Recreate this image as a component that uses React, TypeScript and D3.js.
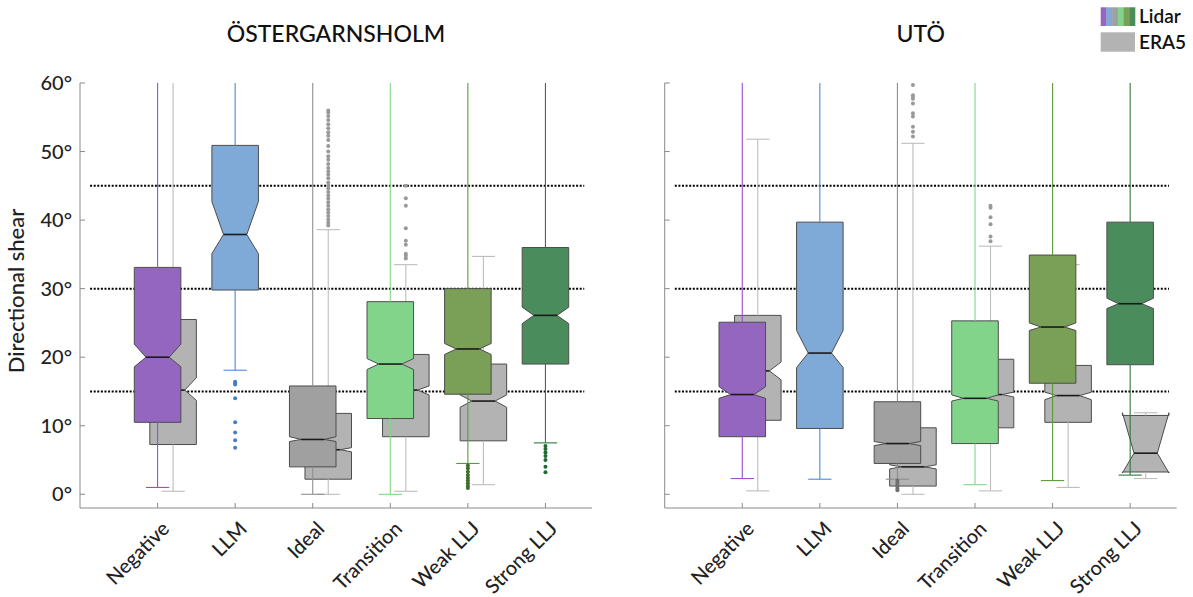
import React from "react";
import * as d3 from "d3";

// Wind-regime categories
const categories = ["Negative", "LLM", "Ideal", "Transition", "Weak LLJ", "Strong LLJ"];
const yTicks = [0, 10, 20, 30, 40, 50, 60];
const refLines = [15, 30, 45];

// Östergarnsholm – Lidar box statistics (degrees)
const ostLidarQ1 = [10.5, 29.8, 4.0, 11.05, 14.6, 19.0];
const ostLidarMedian = [20.0, 37.9, 8.0, 19.0, 21.2, 26.1];
const ostLidarQ3 = [33.1, 50.9, 15.8, 28.1, 30.0, 36.0];
const ostLidarNotchLo = [18.6, 35.1, 7.7, 18.2, 20.4, 24.9];
const ostLidarNotchHi = [21.9, 42.7, 8.4, 19.8, 22.0, 27.3];
const ostLidarWhiskerLo = [1.0, 18.1, 0.0, 0.0, 4.5, 7.5];
const ostLidarWhiskerHi = [60, 60, 60, 60, 60, 60];
const ostLidarOutliers = [
  [],
  [16.4, 16.2, 16.0, 14.0, 10.5, 9.0, 7.9, 6.8],
  [],
  [],
  [4.2, 3.8, 3.3, 2.8, 2.4, 2.0, 1.6, 1.2, 0.9],
  [7.05, 6.6, 6.1, 5.6, 5.0, 4.0, 3.2],
];

// Östergarnsholm – ERA5 box statistics (null = no data)
const ostEraQ1 = [7.26, null, 2.2, 8.4, 7.8, null];
const ostEraMedian = [15.2, null, 6.5, 15.2, 13.6, null];
const ostEraQ3 = [25.5, null, 11.8, 20.4, 19.0, null];
const ostEraNotchLo = [13.7, null, 6.2, 14.5, 12.7, null];
const ostEraNotchHi = [17.0, null, 6.8, 15.8, 14.5, null];
const ostEraWhiskerLo = [0.44, null, 0.0, 0.44, 1.4, null];
const ostEraWhiskerHi = [60, null, 38.6, 33.5, 34.7, null];
const ostEraOutliers = [
  [],
  [],
  [56.0, 55.7, 55.2, 54.6, 54.0, 53.4, 52.8, 52.3, 51.7, 50.8, 50.0, 49.3, 48.8, 48.2,
    47.6, 47.1, 46.6, 46.1, 45.5, 45.0, 44.6, 44.1, 43.6, 43.1, 42.6, 42.1, 41.6, 41.1,
    40.6, 40.1, 39.6, 39.2],
  [45.0, 43.2, 42.1, 38.8, 37.0, 36.4, 35.1, 34.8, 34.4],
  [],
  [],
];

// Utö – Lidar box statistics
const utoLidarQ1 = [8.4, 9.6, 4.5, 7.4, 16.2, 18.9];
const utoLidarMedian = [14.55, 20.6, 7.4, 14.0, 24.4, 27.8];
const utoLidarQ3 = [25.1, 39.7, 13.5, 25.3, 34.9, 39.7];
const utoLidarNotchLo = [14.0, 18.5, 7.1, 13.6, 23.9, 27.1];
const utoLidarNotchHi = [15.7, 23.9, 7.7, 14.5, 25.0, 28.6];
const utoLidarWhiskerLo = [2.3, 2.2, 2.2, 1.4, 2.0, 2.8];
const utoLidarWhiskerHi = [60, 60, 60, 60, 60, 60];
const utoLidarOutliers = [[], [], [2.0, 1.7, 1.4, 1.1, 0.8, 0.6], [], [], []];

// Utö – ERA5 box statistics
const utoEraQ1 = [10.8, null, 1.2, 9.7, 10.5, 3.25];
const utoEraMedian = [18.0, null, 4.0, 14.55, 14.4, 6.0];
const utoEraQ3 = [26.1, null, 9.7, 19.7, 18.8, 11.5];
const utoEraNotchLo = [16.7, null, 3.7, 14.2, 13.8, 3.1];
const utoEraNotchHi = [19.3, null, 4.3, 14.9, 14.9, 11.9];
const utoEraWhiskerLo = [0.5, null, 0.0, 0.5, 1.0, 2.3];
const utoEraWhiskerHi = [51.8, null, 51.2, 36.2, 33.5, 11.9];
const utoEraOutliers = [
  [],
  [],
  [59.7, 58.2, 58.0, 57.7, 57.0, 55.6, 55.1, 53.6, 52.9, 52.2],
  [42.1, 41.8, 40.4, 39.4, 37.6, 36.9],
  [],
  [],
];

// Colours per category
const lidarFill = ["#9466c0", "#7fa9d6", "#a0a0a0", "#82d48b", "#7a9f56", "#4a8c5c"];
const lidarLine = ["#9a4ed6", "#4b8bd6", "#8f8f8f", "#80d88a", "#5a9a3c", "#2b7a3f"];
const lidarDot = ["#7a3fb0", "#4a7cc0", "#6f6f6f", "#5fb86a", "#3d6e2a", "#1f6a30"];
const eraFill = "#b3b3b3";
const eraLine = "#bdbdbd";
const eraDot = "#999999";

const FONT = "Lato, 'Noto Sans', sans-serif";

type Stats = {
  q1: (number | null)[];
  med: (number | null)[];
  q3: (number | null)[];
  nlo: (number | null)[];
  nhi: (number | null)[];
  wlo: (number | null)[];
  whi: (number | null)[];
  out: number[][];
};

const ostLidar: Stats = {
  q1: ostLidarQ1, med: ostLidarMedian, q3: ostLidarQ3, nlo: ostLidarNotchLo,
  nhi: ostLidarNotchHi, wlo: ostLidarWhiskerLo, whi: ostLidarWhiskerHi, out: ostLidarOutliers,
};
const ostEra: Stats = {
  q1: ostEraQ1, med: ostEraMedian, q3: ostEraQ3, nlo: ostEraNotchLo,
  nhi: ostEraNotchHi, wlo: ostEraWhiskerLo, whi: ostEraWhiskerHi, out: ostEraOutliers,
};
const utoLidar: Stats = {
  q1: utoLidarQ1, med: utoLidarMedian, q3: utoLidarQ3, nlo: utoLidarNotchLo,
  nhi: utoLidarNotchHi, wlo: utoLidarWhiskerLo, whi: utoLidarWhiskerHi, out: utoLidarOutliers,
};
const utoEra: Stats = {
  q1: utoEraQ1, med: utoEraMedian, q3: utoEraQ3, nlo: utoEraNotchLo,
  nhi: utoEraNotchHi, wlo: utoEraWhiskerLo, whi: utoEraWhiskerHi, out: utoEraOutliers,
};

const Y_TOP = 83;
const Y_BOTTOM = 508;
const y = d3.scaleLinear().domain([-2, 60]).range([Y_BOTTOM, Y_TOP]);
const Y_MAX = 60;

function Boxes({
  s, x, offset, fill, line, dot, width,
}: {
  s: Stats; x: d3.ScaleLinear<number, number>; offset: number;
  fill: (i: number) => string; line: (i: number) => string; dot: (i: number) => string; width: number;
}) {
  const bw = x(width) - x(0);
  const inset = bw / 4;
  const cap = bw / 2;
  return (
    <g>
      {categories.map((c, i) => {
        if (s.q1[i] == null) return null;
        const q1 = s.q1[i] as number, med = s.med[i] as number, q3 = s.q3[i] as number;
        const nlo = s.nlo[i] as number, nhi = s.nhi[i] as number;
        const wlo = s.wlo[i] as number, whi = s.whi[i] as number;
        const cx = x(i + 1 + offset);
        const L = cx - bw / 2, R = cx + bw / 2;
        const pts: [number, number][] = [
          [L, y(q1)], [L, y(nlo)], [L + inset, y(med)], [L, y(nhi)], [L, y(q3)],
          [R, y(q3)], [R, y(nhi)], [R - inset, y(med)], [R, y(nlo)], [R, y(q1)],
        ];
        const path = d3.line()(pts) + "Z";
        return (
          <g key={c}>
            <path d={path} fill={fill(i)} stroke="#4d4d4d" strokeWidth={1} strokeLinejoin="miter" />
            <line x1={L + inset} x2={R - inset} y1={y(med)} y2={y(med)} stroke="#1a1a1a" strokeWidth={1.6} />
            <line x1={cx} x2={cx} y1={y(q3)} y2={y(whi)} stroke={line(i)} strokeWidth={1.1} />
            <line x1={cx} x2={cx} y1={y(q1)} y2={y(wlo)} stroke={line(i)} strokeWidth={1.1} />
            {whi < Y_MAX && (
              <line x1={cx - cap / 2} x2={cx + cap / 2} y1={y(whi)} y2={y(whi)} stroke={line(i)} strokeWidth={1.1} />
            )}
            <line x1={cx - cap / 2} x2={cx + cap / 2} y1={y(wlo)} y2={y(wlo)} stroke={line(i)} strokeWidth={1.1} />
            {s.out[i].map((v, k) => (
              <circle key={k} cx={cx} cy={y(v)} r={2} fill={dot(i)} />
            ))}
          </g>
        );
      })}
    </g>
  );
}

function Panel({
  title, left, lidar, era, showYLabels,
}: { title: string; left: number; lidar: Stats; era: Stats; showYLabels: boolean }) {
  const x = d3.scaleLinear().domain([0, 6.6]).range([left, left + 512]);
  const x0 = x(0), x1 = x(6.6);
  const axisColor = "#8a8a8a";
  return (
    <g>
      <text x={(x0 + x1) / 2} y={42} textAnchor="middle" fontFamily={FONT} fontSize={23}
        fontWeight={500} fill="#111">{title}</text>
      {/* reference lines */}
      {refLines.map((r) => (
        <line key={r} x1={x(0.13)} x2={x(6.5)} y1={y(r)} y2={y(r)} stroke="#000"
          strokeWidth={2} strokeDasharray="2,1.6" />
      ))}
      {/* axes */}
      <line x1={x0} x2={x0} y1={Y_TOP} y2={Y_BOTTOM} stroke={axisColor} strokeWidth={1} />
      <line x1={x0} x2={x1} y1={Y_BOTTOM} y2={Y_BOTTOM} stroke={axisColor} strokeWidth={1} />
      {yTicks.map((t) => (
        <g key={t}>
          <line x1={x0} x2={x0 + 5} y1={y(t)} y2={y(t)} stroke={axisColor} />
          {showYLabels && (
            <text x={x0 - 8} y={y(t)} dy="0.35em" textAnchor="end" fontFamily={FONT}
              fontSize={20} fontWeight={500} fill="#222">{t}°</text>
          )}
        </g>
      ))}
      {categories.map((c, i) => (
        <g key={c}>
          <line x1={x(i + 1)} x2={x(i + 1)} y1={Y_BOTTOM} y2={Y_BOTTOM - 5} stroke={axisColor} />
          <text transform={`translate(${x(i + 1) + 13},${Y_BOTTOM + 22}) rotate(-45)`}
            textAnchor="end" fontFamily={FONT} fontSize={20} fontWeight={500} fill="#222">{c}</text>
        </g>
      ))}
      <Boxes s={era} x={x} offset={0.2} width={0.6} fill={() => eraFill} line={() => eraLine}
        dot={() => eraDot} />
      <Boxes s={lidar} x={x} offset={0} width={0.6} fill={(i) => lidarFill[i]}
        line={(i) => lidarLine[i]} dot={(i) => lidarDot[i]} />
    </g>
  );
}

export default function App() {
  const stripeW = 34.3 / lidarFill.length;
  return (
    <svg width={1193} height={597} style={{ position: "absolute", left: 0, top: 0, background: "#fff" }}>
      <rect width={1193} height={597} fill="#fff" />
      <text transform="translate(24,291) rotate(-90)" textAnchor="middle" fontFamily={FONT}
        fontSize={22} fontWeight={500} fill="#222">Directional shear</text>
      <Panel title="ÖSTERGARNSHOLM" left={80} lidar={ostLidar} era={ostEra} showYLabels={true} />
      <Panel title="UTÖ" left={664.7} lidar={utoLidar} era={utoEra} showYLabels={false} />
      {/* legend */}
      <g>
        {lidarFill.map((f, i) => (
          <rect key={i} x={1100.7 + i * stripeW} y={7.3} width={stripeW + 0.3} height={18.7} fill={f} />
        ))}
        <rect x={1100.7} y={32.3} width={34.3} height={19.4} fill={eraFill} />
        <text x={1139} y={23} fontFamily={FONT} fontSize={19} fontWeight={600} fill="#111">Lidar</text>
        <text x={1139} y={49} fontFamily={FONT} fontSize={19} fontWeight={600} fill="#111">ERA5</text>
      </g>
    </svg>
  );
}
